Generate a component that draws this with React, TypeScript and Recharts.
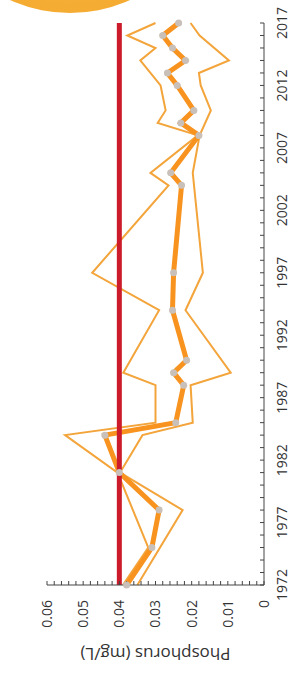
import { Line, LineChart, ReferenceLine, XAxis, YAxis } from "recharts";

// sampling years (only years where at least one series has a vertex)
const years = [
  1972, 1975, 1978, 1981, 1984, 1985, 1988, 1989, 1990, 1994, 1997, 2004, 2005,
  2008, 2009, 2010, 2012, 2013, 2014, 2015, 2016, 2017,
];

// mg/L
const meanP = [
  0.038, 0.031, 0.029, 0.04, 0.044, 0.0244, 0.0222, 0.025, 0.0214, 0.0253, 0.025,
  0.0228, 0.0258, 0.018, 0.023, 0.0194, 0.024, 0.0267, 0.0217, 0.0253, 0.028, 0.0236,
];
const maxP = [
  0.039, 0.032, null, 0.0405, 0.055, 0.03, 0.03, 0.0389, null, 0.029, 0.0475,
  0.0264, 0.0314, 0.0183, 0.0294, 0.0272, 0.0286, null, 0.0342, 0.03, 0.0378, 0.03,
];
const minP = [
  0.035, null, 0.0225, 0.0398, 0.0336, 0.0197, 0.0203, 0.0092, null, 0.0217, 0.0169,
  null, 0.0197, 0.0178, null, 0.0147, 0.0175, 0.018, 0.0097, null, 0.0178, 0.0203,
];

const guideline = 0.04;

const yearLabels = [1972, 1977, 1982, 1987, 1992, 1997, 2002, 2007, 2012, 2017];
const phosphorusLabels = [0, 0.01, 0.02, 0.03, 0.04, 0.05, 0.06];

// minor ticks: every year / every 0.002 mg/L
const yearTicks = Array.from({ length: 46 }, (_, i) => 1972 + i);
const phosphorusTicks = Array.from({ length: 31 }, (_, i) => Math.round(i * 2) / 1000);

const rows = years.map((year, i) => ({
  year,
  mean: meanP[i],
  max: maxP[i],
  min: minP[i],
}));

const INK = "#333";
const AXIS = "#444";

function AxisTitle(props: any) {
  const vb = props.viewBox || { x: 0, y: 0, width: 0, height: 0 };
  const cx = vb.x + 19;
  const cy = vb.y + vb.height / 2;
  return (
    <text
      x={cx}
      y={cy}
      transform={`rotate(-90, ${cx}, ${cy})`}
      textAnchor="middle"
      dominantBaseline="central"
      fontSize={17}
      fill={INK}
    >
      Phosphorus (mg/L)
    </text>
  );
}

export default function App() {
  return (
    <div
      style={{
        position: "absolute",
        left: 0,
        top: 0,
        width: 292,
        height: 673,
        overflow: "hidden",
        background: "#fff",
        fontFamily: "'Open Sans', sans-serif",
      }}
    >
      {/* corner badge, cut off by the frame */}
      <div
        style={{
          position: "absolute",
          left: -75,
          top: -277,
          width: 290,
          height: 290,
          borderRadius: "50%",
          background: "radial-gradient(circle at 50% 70%, #f7b23e, #f2a01d)",
        }}
      />
      {/* the chart is printed sideways */}
      <div
        style={{
          position: "absolute",
          left: 0,
          top: 0,
          width: 673,
          height: 292,
          transformOrigin: "0 0",
          transform: "translate(0px, 673px) rotate(-90deg)",
        }}
      >
        <LineChart
          width={673}
          height={292}
          data={rows}
          margin={{ top: 47, right: 23, bottom: 0, left: 0 }}
        >
          <XAxis
            dataKey="year"
            type="number"
            domain={[1972, 2017]}
            ticks={yearTicks}
            interval={0}
            height={28}
            tickSize={-4}
            tickMargin={17}
            tickFormatter={(v: number) => (yearLabels.includes(v) ? String(v) : "")}
            tick={{ fontSize: 14, fill: INK }}
            axisLine={{ stroke: AXIS }}
            tickLine={{ stroke: AXIS }}
          />
          <YAxis
            type="number"
            domain={[0, 0.06]}
            ticks={phosphorusTicks}
            interval={0}
            width={88}
            tickSize={-4}
            tickMargin={19}
            tickFormatter={(v: number) => {
              const hit = phosphorusLabels.find((p) => Math.abs(p - v) < 1e-9);
              if (hit === undefined) return "";
              return hit === 0 ? "0" : hit.toFixed(2);
            }}
            tick={{ fontSize: 14, fill: INK }}
            axisLine={{ stroke: AXIS }}
            tickLine={{ stroke: AXIS }}
            label={<AxisTitle />}
          />
          <Line
            type="linear"
            dataKey="max"
            stroke="#f3a43a"
            strokeWidth={2}
            dot={false}
            connectNulls
            isAnimationActive={false}
          />
          <Line
            type="linear"
            dataKey="min"
            stroke="#f3a43a"
            strokeWidth={2}
            dot={false}
            connectNulls
            isAnimationActive={false}
          />
          <Line
            type="linear"
            dataKey="mean"
            stroke="#f7931e"
            strokeWidth={5}
            dot={{ r: 3.5, fill: "#c9c1b9", stroke: "none" }}
            isAnimationActive={false}
          />
          <ReferenceLine y={guideline} stroke="#cc1b2a" strokeWidth={5} />
        </LineChart>
      </div>
    </div>
  );
}
